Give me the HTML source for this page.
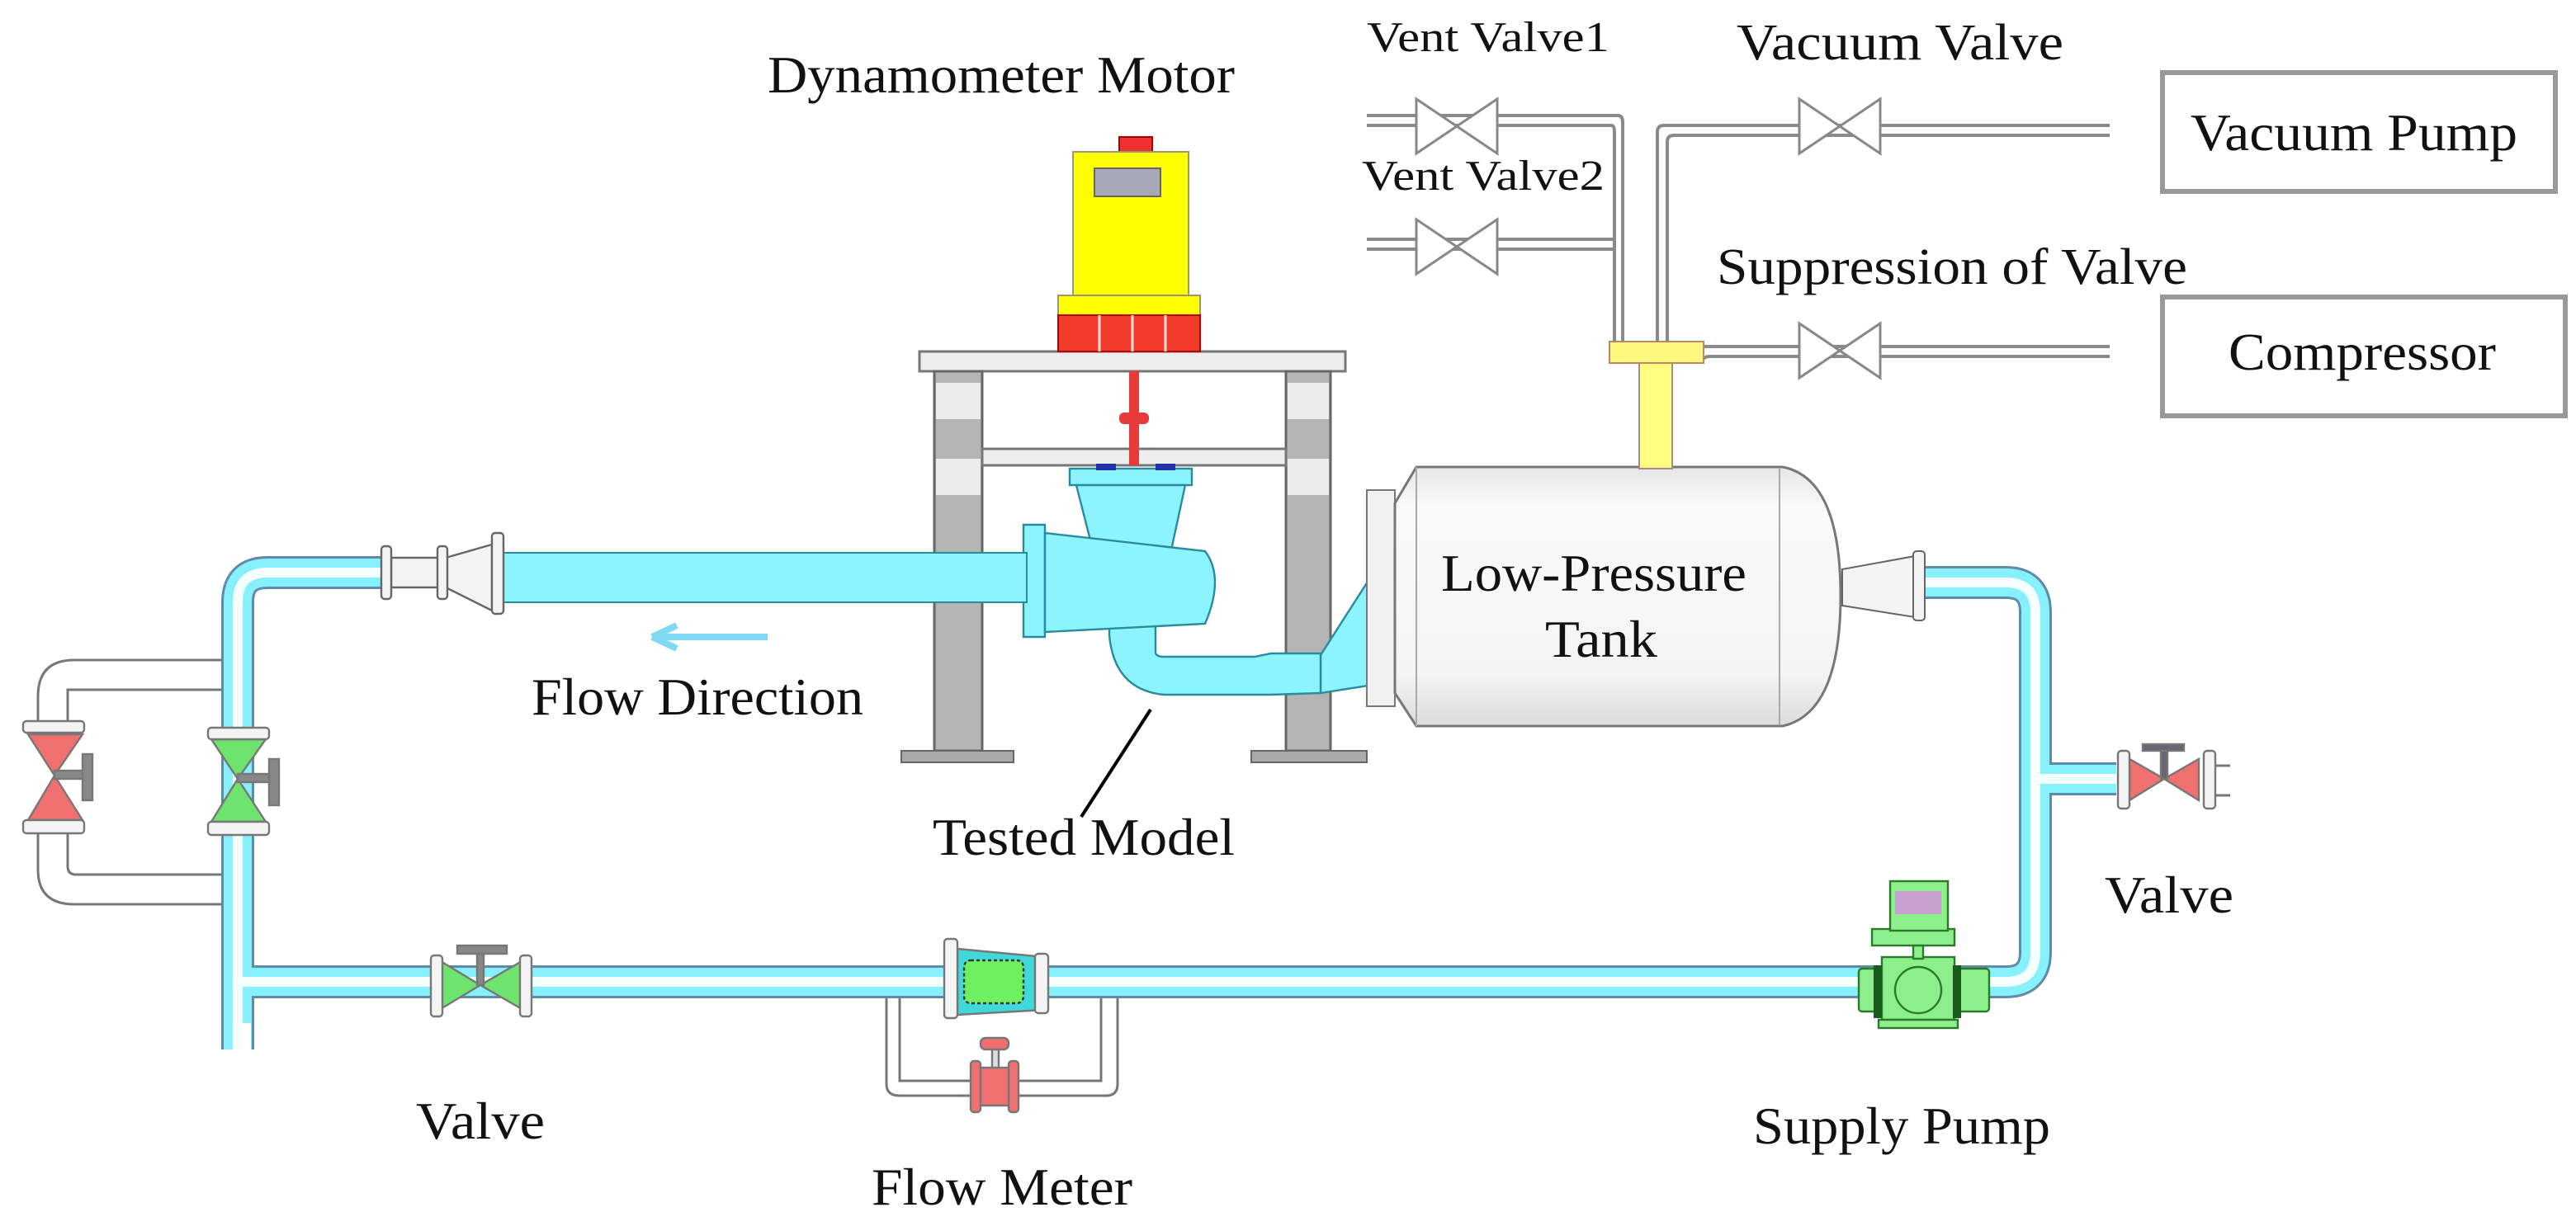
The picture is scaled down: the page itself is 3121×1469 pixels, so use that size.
<!DOCTYPE html>
<html><head><meta charset="utf-8"><style>
html,body{margin:0;padding:0;background:#fff;}
svg{display:block;}
</style></head><body>
<svg width="3121" height="1469" viewBox="0 0 1560.5 734.5" xmlns="http://www.w3.org/2000/svg">
<defs>
<linearGradient id="tank" x1="0" y1="0" x2="0" y2="1">
<stop offset="0" stop-color="#e6e6e6"/><stop offset="0.15" stop-color="#fafafa"/><stop offset="0.8" stop-color="#f4f4f4"/><stop offset="1" stop-color="#dcdcdc"/>
</linearGradient>
</defs>

<!-- gray gas lines -->
<g fill="none" stroke="#8a8a8a" stroke-width="2">
<path d="M828,70 H980 Q983,70 983,74 V208"/>
<path d="M828,76 H976 Q978,76 978,80 V208"/>
<path d="M828,145 H978"/><path d="M828,151 H978"/>
<path d="M1004,208 V80 Q1004,76 1008,76 H1278"/>
<path d="M1010,208 V86 Q1010,82 1014,82 H1278"/>
<path d="M1025,208 V216 Q1025,210 1031,210 H1278"/>
<path d="M1031,208 V220 Q1031,216 1036,216 H1278"/>
</g>
<!-- X valves -->
<g fill="#fff" stroke="#888" stroke-width="1.5">
<path d="M858,60 L907,93 L907,60 L858,93 Z"/>
<path d="M858,133 L907,166 L907,133 L858,166 Z"/>
<path d="M1090,60 L1139,93 L1139,60 L1090,93 Z"/>
<path d="M1090,196 L1139,229 L1139,196 L1090,229 Z"/>
</g>
<!-- boxes -->
<rect x="1310" y="44" width="238" height="72" fill="#fff" stroke="#999" stroke-width="3"/>
<rect x="1310" y="180" width="244" height="72" fill="#fff" stroke="#999" stroke-width="3"/>

<!-- stand -->
<rect x="557" y="213" width="258" height="12" fill="#eee" stroke="#777" stroke-width="1.5"/>
<rect x="566" y="225" width="29" height="230" fill="#b4b4b4" stroke="#666" stroke-width="1.5"/>
<rect x="779" y="225" width="27" height="230" fill="#b4b4b4" stroke="#666" stroke-width="1.5"/>
<rect x="567" y="232" width="27" height="22" fill="#ececec"/><rect x="567" y="278" width="27" height="22" fill="#ececec"/>
<rect x="780" y="232" width="25" height="22" fill="#ececec"/><rect x="780" y="278" width="25" height="22" fill="#ececec"/>
<rect x="546" y="455" width="68" height="7" fill="#aaa" stroke="#666"/>
<rect x="758" y="455" width="70" height="7" fill="#aaa" stroke="#666"/>
<rect x="595" y="272" width="184" height="10" fill="#eee" stroke="#777" stroke-width="1.5"/>
<!-- motor -->
<rect x="678" y="83" width="20" height="9" fill="#f03030" stroke="#a00"/>
<rect x="650" y="92" width="70" height="87" fill="#ffff00" stroke="#997"/>
<rect x="663" y="102" width="40" height="17" fill="#a8a8b8" stroke="#666"/>
<rect x="641" y="179" width="86" height="12" fill="#ffff00" stroke="#997"/>
<rect x="641" y="191" width="86" height="22" fill="#f03a2a" stroke="#b00"/>
<line x1="666" y1="191" x2="666" y2="213" stroke="#fdd" stroke-width="1.5"/>
<line x1="686" y1="191" x2="686" y2="213" stroke="#fdd" stroke-width="1.5"/>
<line x1="706" y1="191" x2="706" y2="213" stroke="#fdd" stroke-width="1.5"/>
<rect x="684" y="225" width="6" height="57" fill="#e83a3a"/>
<rect x="678" y="250" width="18" height="7" rx="3" fill="#e83a3a"/>

<!-- tested model -->
<g fill="#8cf4fc" stroke="#2a8aa0" stroke-width="1.2">
<path d="M832,347 L832,415 L800,420 L800,397 Z"/>
<path d="M700,368 V395 Q700,398 705,398 H760 L770,396 H800 V420 L770,421 H705 Q675,418 672,385 V368 Z"/>
<rect x="648" y="284" width="74" height="10"/>
<path d="M652,294 H718 L707,345 H665 Z"/>
<rect x="620" y="318" width="13" height="68"/>
<path d="M633,323 L730,334 Q742,350 730,378 L633,383 Z"/>
</g>
<rect x="664" y="281" width="12" height="4" fill="#2233aa"/><rect x="700" y="281" width="12" height="4" fill="#2233aa"/>
<line x1="697" y1="430" x2="655" y2="495" stroke="#000" stroke-width="2"/>

<!-- main loop pipes -->
<g fill="none" stroke-linejoin="round">
<path d="M237,347 H162 Q144,347 144,365 V636 M144,595 H1215 Q1233,595 1233,577 V371 Q1233,353 1215,353 H1165 M1233,472 H1282" stroke="#5f8aa8" stroke-width="20"/>
<path d="M237,347 H162 Q144,347 144,365 V636 M144,595 H1215 Q1233,595 1233,577 V371 Q1233,353 1215,353 H1165 M1233,472 H1282" stroke="#86f0fc" stroke-width="17"/>
<path d="M237,347 H162 Q144,347 144,365 V636 M144,595 H1215 Q1233,595 1233,577 V371 Q1233,353 1215,353 H1165 M1233,472 H1282" stroke="#f4ffff" stroke-width="6"/>
</g>
<rect x="146" y="620" width="6" height="20" fill="#fff"/>
<!-- left bypass -->
<g fill="none" stroke="#777" stroke-width="1.5">
<path d="M134,400 H45 Q23,400 23,422 V440"/>
<path d="M134,418 H41 V440"/>
<path d="M23,498 V527 Q23,548 45,548 H134"/>
<path d="M41,498 V525 Q41,530 46,530 H134"/>
</g>
<!-- big pipe and flanges -->
<rect x="304" y="335" width="318" height="30" fill="#8cf4fc" stroke="#2a8aa0"/>
<g fill="#f4f4f4" stroke="#666" stroke-width="1.2">
<path d="M237,338 H266 V356 H237 Z"/>
<path d="M270,338 L298,330 V370 L270,356 Z"/>
<rect x="231" y="331" width="6" height="32" rx="2"/>
<rect x="265" y="331" width="6" height="32" rx="2"/>
<rect x="298" y="323" width="7" height="49" rx="2"/>
</g>
<!-- flow arrow -->
<path d="M465,386 H395 M395,386 L410,379 M395,386 L410,393" stroke="#7fd9f0" stroke-width="4" fill="none"/>

<!-- tank -->
<rect x="828" y="297" width="17" height="131" fill="#f0f0f0" stroke="#777"/>
<path d="M845,305 L858,283 H1080 Q1115,290 1115,361 Q1115,432 1080,440 H858 L845,420 Z" fill="url(#tank)" stroke="#777" stroke-width="1.5"/>
<line x1="858" y1="283" x2="858" y2="440" stroke="#aaa"/>
<line x1="1078" y1="284" x2="1078" y2="439" stroke="#aaa"/>
<path d="M1116,345 L1160,337 V374 L1116,367 Z" fill="#f4f4f4" stroke="#666"/>
<rect x="1159" y="334" width="7" height="42" rx="2" fill="#f4f4f4" stroke="#666"/>
<rect x="993" y="218" width="20" height="66" fill="#ffff80" stroke="#a88"/>
<rect x="975" y="207" width="57" height="13" fill="#fff880" stroke="#b86"/>

<!-- valves -->
<g stroke="#777" stroke-width="1.2">
<path d="M17,445 L50,445 L33,470 Z M17,497 L50,497 L33,470 Z" fill="#f07070"/>
<rect x="14" y="437" width="37" height="7" rx="2" fill="#f4f4f4"/><rect x="14" y="497" width="37" height="8" rx="2" fill="#f4f4f4"/>
<rect x="33" y="467" width="18" height="5" fill="#888"/><rect x="50" y="457" width="6" height="28" fill="#888"/>
<path d="M128,448 L161,448 L144,472 Z M128,498 L161,498 L144,472 Z" fill="#6ee46e"/>
<rect x="126" y="441" width="37" height="7" rx="2" fill="#f4f4f4"/><rect x="126" y="498" width="37" height="8" rx="2" fill="#f4f4f4"/>
<rect x="144" y="469" width="19" height="5" fill="#888"/><rect x="163" y="460" width="6" height="28" fill="#888"/>
<path d="M266,582 L266,612 L291,597 Z M317,582 L317,612 L291,597 Z" fill="#6ee46e"/>
<rect x="261" y="579" width="7" height="37" rx="2" fill="#f4f4f4"/><rect x="315" y="579" width="7" height="37" rx="2" fill="#f4f4f4"/>
<rect x="289" y="577" width="4" height="20" fill="#888"/><rect x="277" y="573" width="30" height="5" fill="#888"/>
<path d="M1290,460 L1290,485 L1311,472 Z M1332,460 L1332,485 L1311,472 Z" fill="#f07070"/>
<rect x="1283" y="455" width="7" height="35" rx="2" fill="#f4f4f4"/><rect x="1335" y="455" width="7" height="35" rx="2" fill="#f4f4f4"/>
<rect x="1309" y="453" width="4" height="19" fill="#667"/><rect x="1298" y="451" width="25" height="4" fill="#667"/>
</g>
<path d="M1342,464 H1351 M1342,482 H1351" stroke="#777" stroke-width="1.5"/>

<!-- flow meter bypass -->
<g fill="none" stroke="#777" stroke-width="1.5">
<path d="M537,605 V657 Q537,664 545,664 H588"/>
<path d="M545,605 V655 H588"/>
<path d="M617,655 H667 V605"/>
<path d="M617,664 H670 Q677,664 677,657 V605"/>
</g>
<g stroke="#777" stroke-width="1.2">
<path d="M580,575 L633,580 V612 L580,615 Z" fill="#40d8d8"/>
<rect x="584" y="582" width="36" height="26" rx="4" fill="#6ef060" stroke="#333" stroke-dasharray="2,1.5"/>
<rect x="572" y="569" width="8" height="48" rx="2" fill="#f4f4f4"/>
<rect x="627" y="578" width="8" height="36" rx="2" fill="#f4f4f4"/>
<rect x="588" y="643" width="6" height="31" rx="2" fill="#f07070"/>
<rect x="611" y="643" width="6" height="31" rx="2" fill="#f07070"/>
<rect x="594" y="647" width="17" height="23" fill="#f07070"/>
<rect x="601" y="635" width="4" height="12" fill="#ddd"/>
<rect x="594" y="629" width="17" height="7" rx="3" fill="#f07070"/>
</g>

<!-- supply pump -->
<g stroke="#2a7a2a" stroke-width="1.2" fill="#8cef8c">
<rect x="1126" y="587" width="79" height="26" rx="2"/>
<rect x="1140" y="580" width="44" height="38"/>
<circle cx="1162" cy="600" r="14"/>
<rect x="1138" y="618" width="48" height="5"/>
<rect x="1134" y="563" width="50" height="10"/>
<rect x="1145" y="534" width="35" height="30"/>
<rect x="1159" y="573" width="6" height="8"/>
</g>
<rect x="1135" y="585" width="5" height="32" fill="#1a5a1a"/><rect x="1183" y="585" width="5" height="32" fill="#1a5a1a"/>
<rect x="1148" y="540" width="28" height="14" fill="#c8a0d0"/>

<!-- labels -->
<g font-family="'Liberation Serif', 'Times New Roman', serif" fill="#111" lengthAdjust="spacingAndGlyphs">
<text x="465" y="56" font-size="32" textLength="283" lengthAdjust="spacingAndGlyphs">Dynamometer Motor</text>
<text x="828" y="31" font-size="26" textLength="147" lengthAdjust="spacingAndGlyphs">Vent Valve1</text>
<text x="1052" y="36" font-size="31" textLength="198" lengthAdjust="spacingAndGlyphs">Vacuum Valve</text>
<text x="825" y="115" font-size="26" textLength="147" lengthAdjust="spacingAndGlyphs">Vent Valve2</text>
<text x="1040" y="172" font-size="31" textLength="285" lengthAdjust="spacingAndGlyphs">Suppression of Valve</text>
<text x="1327" y="91" font-size="32" textLength="198" lengthAdjust="spacingAndGlyphs">Vacuum Pump</text>
<text x="1350" y="224" font-size="32" textLength="162" lengthAdjust="spacingAndGlyphs">Compressor</text>
<text x="873" y="358" font-size="32" textLength="185" lengthAdjust="spacingAndGlyphs">Low-Pressure</text>
<text x="936" y="398" font-size="32" textLength="68" lengthAdjust="spacingAndGlyphs">Tank</text>
<text x="322" y="433" font-size="32" textLength="201" lengthAdjust="spacingAndGlyphs">Flow Direction</text>
<text x="565" y="518" font-size="32" textLength="183" lengthAdjust="spacingAndGlyphs">Tested Model</text>
<text x="1275" y="553" font-size="32" textLength="78" lengthAdjust="spacingAndGlyphs">Valve</text>
<text x="252" y="690" font-size="32" textLength="78" lengthAdjust="spacingAndGlyphs">Valve</text>
<text x="1062" y="693" font-size="32" textLength="180" lengthAdjust="spacingAndGlyphs">Supply Pump</text>
<text x="528" y="730" font-size="32" textLength="158" lengthAdjust="spacingAndGlyphs">Flow Meter</text>
</g>
</svg>
</body></html>
